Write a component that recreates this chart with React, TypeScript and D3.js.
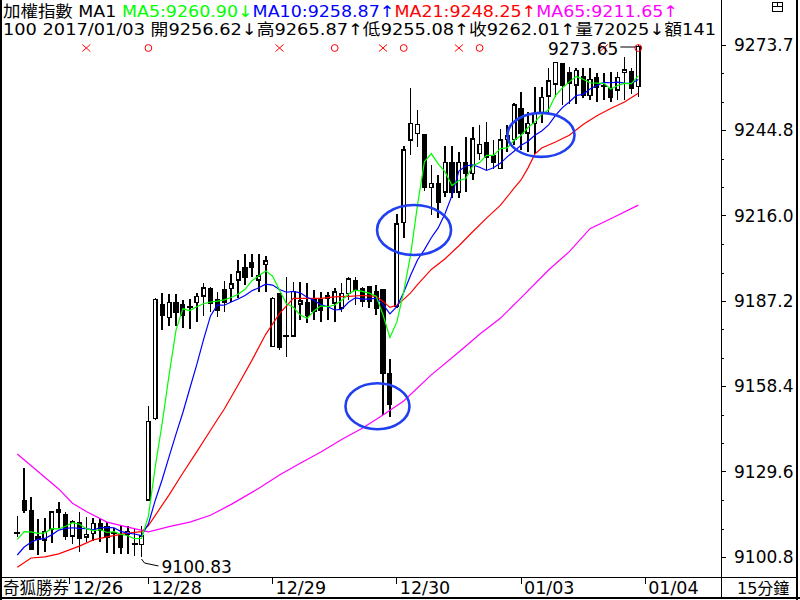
import { useEffect, useRef } from 'react';
import * as d3 from 'd3';

// 15 min bars, 加權指數, last 91 bars up to 2017/01/03
const opens = [
  9109.0, 9119.7, 9116.4, 9107.7, 9106.5, 9110.2, 9116.7, 9115.2, 9107.9, 9112.5,
  9107.5, 9108.8, 9111.9, 9110.9, 9109.0, 9107.9, 9108.6, 9105.2, 9105.1, 9120.1,
  9147.6, 9186.1, 9181.7, 9186.8, 9186.1, 9185.1, 9186.8, 9188.9, 9191.5, 9187.6,
  9190.9, 9191.5, 9194.3, 9198.3, 9200.3, 9194.3, 9199.6, 9171.8, 9189.6, 9175.5,
  9175.5, 9186.2, 9186.8, 9188.1, 9187.6, 9188.3, 9186.5, 9184.8, 9189.8, 9194.1,
  9191.5, 9191.9, 9190.4, 9190.9, 9162.6, 9185.3, 9213.7, 9241.5, 9243.8, 9243.3,
  9225.6, 9226.7, 9224.1, 9234.0, 9224.1, 9234.0, 9230.3, 9237.1, 9240.8, 9236.2,
  9232.0, 9241.7, 9241.8, 9252.3, 9244.0, 9247.2, 9250.8, 9256.4, 9260.5, 9267.4,
  9264.4, 9260.1, 9262.9, 9256.62, 9262.7, 9259.9, 9259.0, 9258.4, 9264.4, 9264.6, 9259.6,
];
const highs = [
  9114.7, 9130.8, 9121.2, 9113.6, 9113.9, 9116.1, 9119.3, 9116.1, 9113.3, 9115.9,
  9114.4, 9114.1, 9113.6, 9112.7, 9110.5, 9111.3, 9111.3, 9110.2, 9111.3, 9151.8,
  9188.2, 9190.0, 9189.6, 9189.6, 9187.6, 9187.8, 9189.8, 9193.2, 9192.1, 9190.3,
  9194.1, 9196.3, 9201.1, 9203.1, 9203.1, 9203.1, 9202.4, 9188.7, 9189.8, 9195.4,
  9193.7, 9193.5, 9193.2, 9191.0, 9190.4, 9190.4, 9191.5, 9193.2, 9195.2, 9195.2,
  9192.1, 9192.1, 9192.6, 9190.9, 9167.7, 9216.6, 9239.5, 9259.0, 9251.7, 9243.3,
  9233.1, 9229.8, 9239.5, 9239.5, 9237.6, 9242.7, 9246.0, 9246.6, 9247.7, 9241.6,
  9245.2, 9246.6, 9254.1, 9257.9, 9251.1, 9259.6, 9259.6, 9265.8, 9268.0, 9267.6,
  9266.3, 9265.8, 9265.8, 9265.87, 9264.1, 9264.2, 9264.7, 9264.7, 9269.7, 9265.8, 9273.65,
];
const lows = [
  9107.6, 9115.6, 9103.2, 9101.5, 9102.4, 9105.5, 9110.5, 9106.6, 9105.1, 9102.6,
  9106.0, 9106.3, 9106.0, 9102.3, 9101.8, 9101.8, 9101.8, 9101.2, 9100.83, 9119.8,
  9147.1, 9177.4, 9178.8, 9178.8, 9178.0, 9177.8, 9180.0, 9182.3, 9183.6, 9181.9,
  9183.6, 9186.9, 9188.1, 9192.6, 9195.4, 9190.4, 9190.4, 9171.6, 9170.7, 9168.5,
  9175.2, 9180.8, 9179.7, 9180.8, 9180.2, 9180.8, 9180.2, 9183.6, 9187.6, 9185.9,
  9185.3, 9184.8, 9182.5, 9148.8, 9148.2, 9184.8, 9208.4, 9236.5, 9239.3, 9224.5,
  9216.3, 9215.1, 9222.4, 9221.9, 9221.9, 9224.1, 9228.1, 9234.8, 9231.4, 9231.8,
  9232.0, 9237.6, 9239.9, 9238.2, 9237.6, 9236.9, 9247.2, 9250.6, 9256.2, 9253.4,
  9253.9, 9253.9, 9255.6, 9255.08, 9254.5, 9255.1, 9254.5, 9255.1, 9255.1, 9257.0, 9256.2,
];
const closes = [
  9109.0, 9116.5, 9103.4, 9106.8, 9109.4, 9116.1, 9115.8, 9108.0, 9112.7, 9107.1,
  9108.5, 9112.2, 9110.0, 9107.5, 9109.0, 9104.0, 9109.4, 9105.2, 9108.0, 9146.5,
  9187.8, 9182.3, 9186.8, 9183.6, 9182.3, 9185.1, 9188.7, 9191.7, 9186.5, 9184.2,
  9186.8, 9192.9, 9197.1, 9195.1, 9198.5, 9195.6, 9200.7, 9188.1, 9171.5, 9175.5,
  9190.4, 9187.2, 9182.3, 9183.9, 9184.2, 9189.0, 9190.2, 9189.8, 9194.6, 9190.9,
  9187.2, 9187.2, 9184.8, 9162.8, 9152.4, 9213.2, 9238.2, 9247.2, 9246.9, 9225.6,
  9226.9, 9220.7, 9234.0, 9223.9, 9234.0, 9230.3, 9241.9, 9240.1, 9235.7, 9234.0,
  9241.6, 9242.9, 9253.4, 9243.8, 9247.2, 9250.6, 9255.9, 9261.5, 9267.7, 9260.1,
  9260.7, 9265.1, 9256.8, 9262.01, 9259.5, 9259.9, 9256.0, 9262.7, 9265.2, 9259.0, 9273.1,
];

const ma5 = [
  9106.8, 9109.4, 9109.3, 9108.8, 9109.0, 9110.4, 9110.3, 9111.2, 9112.4, 9111.9,
  9110.4, 9109.7, 9110.1, 9109.1, 9109.4, 9108.5, 9108.0, 9107.0, 9107.1, 9114.6,
  9131.4, 9146.0, 9162.3, 9177.4, 9184.6, 9184.0, 9185.3, 9186.3, 9186.9, 9187.2,
  9187.6, 9188.4, 9189.5, 9191.2, 9194.1, 9195.8, 9197.4, 9195.6, 9190.9, 9186.3,
  9185.2, 9182.5, 9181.4, 9183.9, 9185.6, 9185.3, 9185.9, 9187.4, 9189.6, 9190.9,
  9190.5, 9189.9, 9188.9, 9182.6, 9174.9, 9180.1, 9190.3, 9202.8, 9219.6, 9234.2,
  9237.0, 9233.5, 9230.8, 9226.2, 9227.9, 9228.6, 9232.8, 9234.0, 9236.4, 9236.4,
  9238.7, 9238.9, 9241.5, 9243.1, 9245.8, 9247.6, 9250.2, 9251.8, 9256.6, 9259.2,
  9261.2, 9263.0, 9262.1, 9260.9, 9260.8, 9260.7, 9258.8, 9260.0, 9260.7, 9260.6, 9263.2,
];
const ma10 = [
  9101.5, 9104.2, 9105.8, 9106.8, 9107.1, 9108.3, 9109.9, 9110.5, 9110.7, 9110.5,
  9110.4, 9110.0, 9110.7, 9110.8, 9110.7, 9109.5, 9108.9, 9108.6, 9108.1, 9112.0,
  9120.0, 9127.0, 9134.7, 9142.3, 9149.6, 9157.7, 9165.7, 9174.3, 9182.2, 9185.9,
  9185.8, 9186.9, 9187.9, 9189.1, 9190.7, 9191.7, 9192.9, 9192.6, 9191.1, 9190.2,
  9190.5, 9190.0, 9188.5, 9187.4, 9186.0, 9185.3, 9184.2, 9184.4, 9186.8, 9188.3,
  9187.9, 9187.9, 9188.2, 9186.1, 9182.9, 9185.3, 9190.1, 9195.9, 9201.1, 9204.6,
  9208.6, 9211.9, 9216.8, 9222.9, 9231.1, 9232.8, 9233.2, 9232.4, 9231.3, 9232.2,
  9233.7, 9235.9, 9237.8, 9239.8, 9241.1, 9243.2, 9244.6, 9246.7, 9249.9, 9252.5,
  9254.4, 9256.6, 9257.0, 9258.8, 9260.0, 9261.0, 9260.9, 9261.1, 9260.8, 9260.7, 9262.0,
];
// [bar, value] read along the slower averages
const ma21: [number, number][] = [
  [0, 9097.4], [2, 9100.5], [4, 9100.9], [6, 9101.9], [9, 9104.5], [11, 9106.6], [13, 9107.6],
  [16, 9108.9], [18, 9109.4], [19, 9111.4], [20, 9114.9], [22, 9121.8], [24, 9129.2], [26, 9136.3],
  [28, 9143.6], [30, 9150.8], [32, 9158.9], [34, 9167.2], [36, 9176.0], [38, 9183.0], [40, 9188.1],
  [42, 9188.1], [44, 9188.1], [46, 9188.6], [48, 9188.8], [50, 9189.1], [52, 9188.8], [53, 9187.1],
  [54, 9185.1], [55, 9185.8], [56, 9187.8], [57, 9190.0], [58, 9192.8], [60, 9197.9], [62, 9201.5],
  [64, 9205.9], [66, 9210.6], [68, 9215.2], [70, 9219.5], [72, 9225.3], [73, 9228.1], [74, 9232.1],
  [75, 9236.8], [76, 9238.9], [78, 9240.9], [80, 9243.2], [82, 9246.8], [84, 9249.8], [86, 9252.2],
  [88, 9254.4], [90, 9257.4],
];
const ma65: [number, number][] = [
  [0, 9135.6], [3, 9129.7], [6, 9123.8], [8, 9119.0], [10, 9116.2], [13, 9112.6], [16, 9110.9],
  [19, 9109.3], [22, 9111.1], [25, 9112.6], [28, 9114.9], [31, 9118.6], [35, 9124.0], [38, 9128.5],
  [41, 9132.5], [44, 9136.3], [47, 9140.5], [50, 9144.3], [53, 9148.8], [56, 9153.5], [60, 9162.3],
  [64, 9170.0], [67, 9176.0], [70, 9181.4], [73, 9188.3], [77, 9197.7], [80, 9203.9], [83, 9211.65],
  [86, 9215.0], [90, 9219.6],
];

const maHeader: [string, string, string, string][] = [
  ['MA5', '9260.90', '↓', '#00ff00'],
  ['MA10', '9258.87', '↑', '#0000ff'],
  ['MA21', '9248.25', '↑', '#ff0000'],
  ['MA65', '9211.65', '↑', '#ff00ff'],
];
const cursorBar = 83;
const axisLabels = ['9100.8', '9129.6', '9158.4', '9187.2', '9216.0', '9244.8', '9273.7'];
const dayTicks: [number, string][] = [
  [7.6, '12/26'], [19, '12/28'], [37, '12/29'], [55, '12/30'], [73, '01/03'], [91, '01/04'],
];
const signals: [number, string][] = [
  [10, 'x'], [19, 'o'], [38, 'x'], [46, 'o'], [53, 'x'], [56, 'o'], [64, 'x'], [67, 'o'], [85, 'x'], [90, 'o'],
];
// hand drawn circles: [bar, price, rx, ry]
const circles: [number, number, number, number][] = [
  [57.5, 9211.2, 37, 25],
  [75.9, 9243.3, 33.5, 22],
  [52.2, 9151.7, 32, 23],
];

export default function App() {
  const svgRef = useRef<SVGSVGElement>(null);

  useEffect(() => {
    if (!svgRef.current) return;
    const svg = d3.select(svgRef.current);
    svg.selectAll('*').remove();

    const font = '"DejaVu Sans", "Noto Sans CJK TC", sans-serif';
    const lo = d3.min(lows) as number;
    const hi = d3.max(highs) as number;
    const x = d3.scaleLinear().domain([0, closes.length - 1]).range([17.3, 638.3]);
    const y = d3.scaleLinear().domain([lo, hi]).range([557, 45]);

    svg.append('rect').attr('width', 800).attr('height', 600).attr('fill', '#fff');
    svg.append('defs').append('clipPath').attr('id', 'plot-clip')
      .append('rect').attr('x', 2).attr('y', 0).attr('width', 719).attr('height', 577);

    const plot = svg.append('g').attr('clip-path', 'url(#plot-clip)');
    const bars = d3.range(closes.length);

    // candles
    const cg = plot.append('g').attr('shape-rendering', 'crispEdges');
    cg.selectAll('line.wick').data(bars).join('line')
      .attr('class', 'wick')
      .attr('x1', i => x(i)).attr('x2', i => x(i))
      .attr('y1', i => y(highs[i])).attr('y2', i => y(lows[i]))
      .attr('stroke', '#000').attr('stroke-width', 1.6);
    const bodies = bars.filter(i => Math.abs(closes[i] - opens[i]) >= 0.2);
    cg.selectAll('rect.body').data(bodies).join('rect')
      .attr('class', 'body')
      .attr('x', i => x(i) - 1.8)
      .attr('width', 3.6)
      .attr('y', i => y(Math.max(opens[i], closes[i])))
      .attr('height', i => Math.max(1, y(Math.min(opens[i], closes[i])) - y(Math.max(opens[i], closes[i]))))
      .attr('fill', i => (closes[i] > opens[i] ? '#fff' : '#000'))
      .attr('stroke', '#000').attr('stroke-width', 1.5);
    const dojis = bars.filter(i => Math.abs(closes[i] - opens[i]) < 0.2);
    cg.selectAll('line.doji').data(dojis).join('line')
      .attr('class', 'doji')
      .attr('x1', i => x(i) - 3).attr('x2', i => x(i) + 3)
      .attr('y1', i => y(closes[i])).attr('y2', i => y(closes[i]))
      .attr('stroke', '#000').attr('stroke-width', 2);

    // moving averages
    const line = d3.line<[number, number]>().x(d => x(d[0])).y(d => y(d[1]));
    const series: [[number, number][], string][] = [
      [ma65, '#ff00ff'],
      [ma21, '#ff0000'],
      [ma10.map((v, i) => [i, v] as [number, number]), '#0000ff'],
      [ma5.map((v, i) => [i, v] as [number, number]), '#00ff00'],
    ];
    series.forEach(([pts, color]) => {
      plot.append('path').attr('d', line(pts) as string)
        .attr('fill', 'none').attr('stroke', color).attr('stroke-width', 1.2);
    });

    // circles
    plot.selectAll('ellipse').data(circles).join('ellipse')
      .attr('cx', d => x(d[0])).attr('cy', d => y(d[1]))
      .attr('rx', d => d[2]).attr('ry', d => d[3])
      .attr('fill', 'none').attr('stroke', '#1f3ff0').attr('stroke-width', 2.6);

    // buy / sell marks
    const sg = plot.append('g').attr('stroke', '#ff0000').attr('stroke-width', 1).attr('fill', 'none');
    signals.forEach(([i, kind]) => {
      const cx = x(i);
      const cy = 48;
      if (kind === 'x') {
        sg.append('line').attr('x1', cx - 4).attr('x2', cx + 4).attr('y1', cy - 3.5).attr('y2', cy + 3.5);
        sg.append('line').attr('x1', cx - 4).attr('x2', cx + 4).attr('y1', cy + 3.5).attr('y2', cy - 3.5);
      } else {
        sg.append('circle').attr('cx', cx).attr('cy', cy).attr('r', 3.4);
      }
    });

    // max / min labels
    const hiBar = highs.indexOf(hi);
    const loBar = lows.indexOf(lo);
    plot.append('text').attr('x', x(hiBar) - 20).attr('y', y(hi) + 10)
      .attr('text-anchor', 'end').attr('font-family', font).attr('font-size', 17)
      .text(hi.toFixed(2));
    plot.append('line').attr('x1', x(hiBar) - 18).attr('x2', x(hiBar) - 3)
      .attr('y1', y(hi) + 2).attr('y2', y(hi) + 2).attr('stroke', '#000');
    plot.append('polyline')
      .attr('points', `${x(loBar)},${y(lo) + 2} ${x(loBar) + 3},${y(lo) + 6} ${x(loBar) + 17},${y(lo) + 9}`)
      .attr('fill', 'none').attr('stroke', '#000');
    plot.append('text').attr('x', x(loBar) + 20).attr('y', y(lo) + 16)
      .attr('font-family', font).attr('font-size', 17)
      .text(lo.toFixed(2));

    // header
    const h1 = svg.append('text').attr('x', 3).attr('y', 17)
      .attr('font-family', font).attr('font-size', 16)
      .attr('textLength', 675).attr('lengthAdjust', 'spacingAndGlyphs');
    h1.append('tspan').attr('fill', '#000').text('加權指數 MA1 ');
    maHeader.forEach(([name, v, arrow, color]) => {
      h1.append('tspan').attr('fill', color).text(`${name}:${v}${arrow}`);
    });
    const c = cursorBar;
    svg.append('text').attr('x', 3).attr('y', 35)
      .attr('font-family', font).attr('font-size', 16)
      .attr('textLength', 713).attr('lengthAdjust', 'spacingAndGlyphs')
      .text(`100 2017/01/03 開${opens[c].toFixed(2)}↓高${highs[c].toFixed(2)}↑低${lows[c].toFixed(2)}↑收${closes[c].toFixed(2)}↑量72025↓額141`);

    // right price axis
    const ax = svg.append('g').attr('shape-rendering', 'crispEdges');
    axisLabels.forEach((label, k) => {
      const v = lo + (k * (hi - lo)) / 6;
      const ty = y(v);
      ax.append('line').attr('x1', 722).attr('x2', 726).attr('y1', ty).attr('y2', ty).attr('stroke', '#000');
      svg.append('text').attr('x', 734).attr('y', ty + 6)
        .attr('font-family', font).attr('font-size', 17).text(label);
      if (k < 6) {
        [1, 2].forEach(m => {
          const my = y(v + (m * (hi - lo)) / 18);
          ax.append('rect').attr('x', 722).attr('y', my).attr('width', 2).attr('height', 1).attr('fill', '#000');
        });
      }
    });

    // bottom time axis
    dayTicks.forEach(([i, label]) => {
      ax.append('line').attr('x1', x(i)).attr('x2', x(i)).attr('y1', 578).attr('y2', 584).attr('stroke', '#000');
      svg.append('text').attr('x', x(i) + 3).attr('y', 594)
        .attr('font-family', font).attr('font-size', 17.5).text(label);
    });
    svg.append('text').attr('x', 3).attr('y', 594)
      .attr('font-family', font).attr('font-size', 16.5).text('奇狐勝券');
    svg.append('text').attr('x', 737).attr('y', 594)
      .attr('font-family', font).attr('font-size', 16).text('15分鐘');

    // frame
    ax.append('line').attr('x1', 0).attr('x2', 798).attr('y1', 577.5).attr('y2', 577.5).attr('stroke', '#000');
    ax.append('line').attr('x1', 721.5).attr('x2', 721.5).attr('y1', 0).attr('y2', 598).attr('stroke', '#000');
    ax.append('line').attr('x1', 1).attr('x2', 1).attr('y1', 0).attr('y2', 600).attr('stroke', '#000').attr('stroke-width', 2);
    ax.append('line').attr('x1', 797).attr('x2', 797).attr('y1', 0).attr('y2', 600).attr('stroke', '#000').attr('stroke-width', 2);
    ax.append('line').attr('x1', 0).attr('x2', 800).attr('y1', 598).attr('y2', 598).attr('stroke', '#000').attr('stroke-width', 2);

    // little window icon, top right
    const icon = svg.append('g').attr('stroke', '#000').attr('fill', 'none').attr('shape-rendering', 'crispEdges');
    icon.append('rect').attr('x', 772.5).attr('y', 2.5).attr('width', 10).attr('height', 9);
    icon.append('line').attr('x1', 772.5).attr('x2', 782.5).attr('y1', 6.5).attr('y2', 6.5);
    icon.append('line').attr('x1', 777.5).attr('x2', 777.5).attr('y1', 2.5).attr('y2', 6.5);
  }, []);

  return (
    <svg
      ref={svgRef}
      width={800}
      height={600}
      style={{ position: 'absolute', left: 0, top: 0, display: 'block' }}
    />
  );
}
